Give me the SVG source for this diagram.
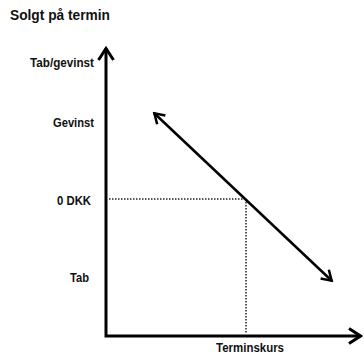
<svg xmlns="http://www.w3.org/2000/svg" width="364" height="354" viewBox="0 0 364 354">
<style>
text{font-family:"Liberation Sans",Arial,sans-serif;font-weight:bold;fill:#111;}
.lbl{font-size:12.5px;}
.axis{stroke:#000;stroke-width:3;fill:none;stroke-linejoin:miter;}
.dot{stroke:#222;stroke-width:1.5;stroke-dasharray:1.5 1.5;fill:none;}
.diag{stroke:#000;stroke-width:2.5;fill:none;}
</style>
<defs>
<marker id="ax" markerUnits="userSpaceOnUse" viewBox="-16 -10 18 20" refX="0" refY="0" markerWidth="18" markerHeight="20" orient="auto-start-reverse">
<path d="M-12,-7.5 L-0.5,0 L-12,7.5" fill="none" stroke="#000" stroke-width="3"/>
</marker>
<marker id="dg" markerUnits="userSpaceOnUse" viewBox="-14 -9 16 18" refX="0" refY="0" markerWidth="16" markerHeight="18" orient="auto-start-reverse">
<path d="M-10,-6 L-0.5,0 L-10,6" fill="none" stroke="#000" stroke-width="2.5"/>
</marker>
</defs>
<g id="title"><text x="10" y="20" font-size="14.5" textLength="100" lengthAdjust="spacingAndGlyphs">Solgt på termin</text></g>
<g id="labels">
<text class="lbl" x="30" y="67" textLength="64" lengthAdjust="spacingAndGlyphs">Tab/gevinst</text>
<text class="lbl" x="53" y="127" textLength="41" lengthAdjust="spacingAndGlyphs">Gevinst</text>
<text class="lbl" x="57" y="205" textLength="34" lengthAdjust="spacingAndGlyphs">0 DKK</text>
<text class="lbl" x="70" y="282" textLength="19" lengthAdjust="spacingAndGlyphs">Tab</text>
<text class="lbl" x="216" y="352" textLength="68" lengthAdjust="spacingAndGlyphs">Terminskurs</text>
</g>
<g id="connectors">
<line class="dot" x1="109" y1="199" x2="246" y2="199"/>
<line class="dot" x1="246" y1="199" x2="246" y2="334"/>
<polyline class="axis" points="106,48 106,336 361,336" marker-start="url(#ax)" marker-end="url(#ax)"/>
<line class="diag" x1="154" y1="113" x2="332" y2="281" marker-start="url(#dg)" marker-end="url(#dg)"/>
</g>
</svg>
